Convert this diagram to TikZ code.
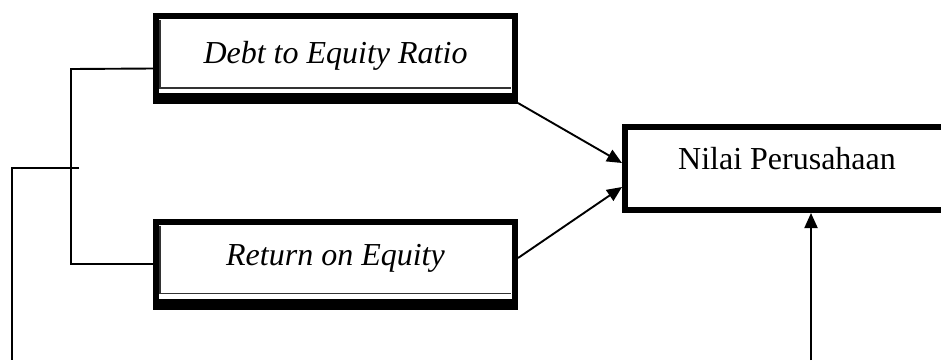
\documentclass[tikz,border=0pt]{standalone}
\usepackage{fontspec}
\setmainfont{Liberation Serif}
\usetikzlibrary{arrows.meta}
\tikzset{
  x=1pt, y=-1pt,
  lbl/.style={font=\fontsize{32}{38}\selectfont, inner sep=0pt, text height=21pt},
  framedbox/.style={lbl, rectangle, minimum width=365pt, minimum height=91pt, outer sep=0pt,
    path picture={
      \fill[black] (path picture bounding box.south west) rectangle (path picture bounding box.north east);
      \fill[white] ([shift={(6pt,-6pt)}]path picture bounding box.north west) rectangle ([shift={(-6pt,11pt)}]path picture bounding box.south east);
      \draw[line width=1.3pt, black!80] ([shift={(7pt,-7pt)}]path picture bounding box.north west) -- ([shift={(7pt,16pt)}]path picture bounding box.south west) -- ([shift={(-7pt,16pt)}]path picture bounding box.south east);
    }},
  thickbox/.style={lbl, draw, line width=6pt, minimum width=324pt, minimum height=83pt},
  conn/.style={line width=1.9pt},
  arr/.style={conn, -{Triangle[length=15pt,width=13pt]}}
}
\begin{document}
\begin{tikzpicture}
\useasboundingbox (0,0) rectangle (941,360);
\begin{scope}
\clip (0,0) rectangle (941,360);
\node[framedbox, text depth=11.8pt] (der) at (335.5,58.5) {\itshape Debt to Equity Ratio};
\node[framedbox, text depth=17.8pt] (roe) at (335.5,264) {\itshape Return on Equity};
\node[thickbox, text depth=18.8pt] (nilai) at (787,168.5) {Nilai Perusahaan};
\end{scope}
\coordinate (bt) at (71,69);
\coordinate (mid) at (79,168);
\coordinate (bl) at (12,360);
\coordinate (br) at (811,360);
\draw[conn] ([yshift=-10pt]der.west) -- (bt) -- (bt |- roe.west) -- (roe.west);
\draw[conn] (mid) -- (bl |- mid) -- (bl);
\draw[arr] ([yshift=1pt]der.south east) -- ([yshift=5.5pt]nilai.west);
\draw[arr] ([yshift=6pt]roe.east) -- ([yshift=-18.5pt]nilai.west);
\draw[arr] (br) -- (br |- nilai.south);
\end{tikzpicture}
\end{document}
